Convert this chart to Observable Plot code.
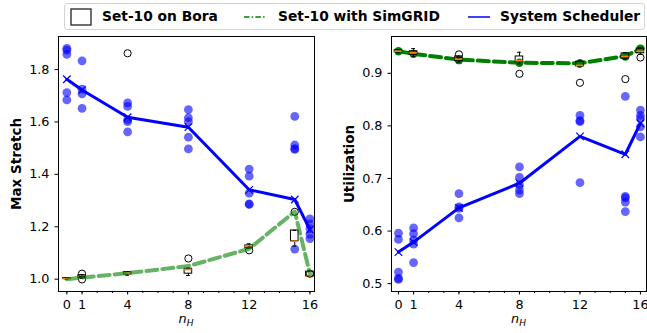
<!DOCTYPE html>
<html><head><meta charset="utf-8">
<script src="https://cdn.jsdelivr.net/npm/d3@7"></script>
<script src="https://cdn.jsdelivr.net/npm/@observablehq/plot@0.6"></script>
<style>
body{margin:0;background:#fff;font-family:"DejaVu Sans",sans-serif;}
#wrap{position:relative;width:647px;height:333px;overflow:hidden;background:#fff}
#left,#right{position:absolute;top:0}
#left{left:0}
#right{left:324px}
#legend{position:absolute;left:64px;top:3px;width:581px;height:27px;border:1px solid #d4d4d4;border-radius:3px;box-sizing:border-box;background:#fff;font-weight:bold;font-size:13.8px;color:#000;z-index:5}
#legend .it{position:absolute;top:4px;line-height:17px;white-space:nowrap}
#legend svg{position:absolute}
g[aria-label="y-axis label"] text{font-weight:bold;font-size:13.5px}
</style>
</head><body>
<div id="wrap">
  <div id="left"></div>
  <div id="right"></div>
  <div id="legend"></div>
</div>
<script>
// ---------- data ----------
const nH = [0, 1, 4, 8, 12, 15, 16];
const xTicks = [0, 1, 4, 8, 12, 16];
const xMinorTicks = [0,1,2,3,4,5,6,7,8,9,10,11,12,13,14,15,16];
const stretchTicks = [1.0, 1.2, 1.4, 1.6, 1.8];
const utilTicks = [0.5, 0.6, 0.7, 0.8, 0.9];

const legendLabels = ["Set-10 on Bora", "Set-10 with SimGRID", "System Scheduler"];

// line series
const stretchScheduler = [1.763, 1.722, 1.618, 1.580, 1.341, 1.304, 1.189];
const stretchSimgrid   = [1.000, 1.006, 1.023, 1.050, 1.116, 1.258, 1.021];
const utilScheduler    = [0.560, 0.579, 0.644, 0.691, 0.780, 0.746, 0.805];
const utilSimgrid      = [0.942, 0.937, 0.926, 0.920, 0.919, 0.933, 0.946];

// individual System Scheduler runs
const stretchRunsX = [0,0,0,0,0, 1,1,1,1, 4,4,4,4,4, 8,8,8,8,8, 12,12,12,12,12, 15,15,15,15,15, 16,16,16,16,16];
const stretchRunsY = [1.881,1.874,1.858,1.712,1.684, 1.833,1.725,1.707,1.652, 1.673,1.659,1.609,1.601,1.562,
                      1.647,1.616,1.601,1.542,1.497, 1.420,1.393,1.328,1.287,1.285, 1.621,1.512,1.498,1.495,1.115,
                      1.230,1.211,1.192,1.171,1.155];
const utilRunsX = [0,0,0,0,0, 1,1,1,1,1, 4,4,4,4, 8,8,8,8,8, 12,12,12,12, 15,15,15,15,15, 16,16,16,16,16];
const utilRunsY = [0.596,0.584,0.522,0.510,0.508, 0.606,0.595,0.583,0.575,0.540, 0.671,0.646,0.643,0.625,
                   0.722,0.702,0.688,0.678,0.671, 0.820,0.810,0.808,0.692, 0.856,0.666,0.663,0.655,0.637,
                   0.830,0.820,0.814,0.798,0.779];

// SimGRID individual runs (utilization)
const utilSimRuns = [0.942, 0.937, 0.925, 0.920, 0.919, 0.932, 0.947];

// Set-10 on Bora box statistics (per nH)
const stretchBoxLo  = [1.000, 1.003, 1.015, 1.014, 1.118, 1.126, 1.010];
const stretchBoxQ1  = [1.001, 1.005, 1.018, 1.021, 1.118, 1.145, 1.010];
const stretchBoxMed = [1.002, 1.010, 1.023, 1.037, 1.126, 1.145, 1.011];
const stretchBoxQ3  = [1.004, 1.015, 1.027, 1.040, 1.129, 1.186, 1.029];
const stretchBoxHi  = [1.005, 1.017, 1.028, 1.042, 1.135, 1.186, 1.029];
const stretchOutX = [1, 1, 4, 8, 12, 15, 16];
const stretchOutY = [1.021, 0.999, 1.862, 1.079, 1.110, 1.257, 1.021];

const utilBoxLo  = [0.939, 0.932, 0.921, 0.918, 0.912, 0.927, 0.936];
const utilBoxQ1  = [0.940, 0.935, 0.923, 0.921, 0.913, 0.928, 0.938];
const utilBoxMed = [0.942, 0.939, 0.927, 0.924, 0.915, 0.932, 0.942];
const utilBoxQ3  = [0.944, 0.942, 0.932, 0.932, 0.922, 0.938, 0.947];
const utilBoxHi  = [0.945, 0.947, 0.933, 0.940, 0.923, 0.939, 0.948];
const utilOutX = [4, 8, 12, 15, 16];
const utilOutY = [0.936, 0.899, 0.882, 0.889, 0.930];

// ---------- build tables ----------
const BLUE = "#0000ff", GREEN = "#008000", ORANGE = "#ff7f0e";
const toLine = (ys) => nH.map((x, i) => ({x, y: ys[i]}));
const toPts = (xs, ys) => xs.map((x, i) => ({x, y: ys[i]}));
const toBoxes = (lo, q1, med, q3, hi) => nH.map((x, i) => ({x, lo: lo[i], q1: q1[i], med: med[i], q3: q3[i], hi: hi[i]}));

const BW = 0.25;  // half box width (data units)
const CW = 0.125; // half cap width

function boxMarks(boxes, outliers) {
  return [
    Plot.ruleX(boxes, {x: "x", y1: "lo", y2: "q1", stroke: "black", strokeWidth: 1}),
    Plot.ruleX(boxes, {x: "x", y1: "q3", y2: "hi", stroke: "black", strokeWidth: 1}),
    Plot.ruleY(boxes, {y: "lo", x1: d => d.x - CW, x2: d => d.x + CW, stroke: "black", strokeWidth: 1}),
    Plot.ruleY(boxes, {y: "hi", x1: d => d.x - CW, x2: d => d.x + CW, stroke: "black", strokeWidth: 1}),
    Plot.rect(boxes, {x1: d => d.x - BW, x2: d => d.x + BW, y1: "q1", y2: "q3", fill: "white", fillOpacity: 0, stroke: "black", strokeWidth: 1}),
    Plot.ruleY(boxes, {y: "med", x1: d => d.x - BW, x2: d => d.x + BW, stroke: ORANGE, strokeWidth: 1.6}),
    Plot.dot(outliers, {x: "x", y: "y", r: 3.6, stroke: "black", fill: "none", strokeWidth: 1})
  ];
}

function axes(yTicks, yLabel) {
  return [
    Plot.axisX({ticks: xMinorTicks, tickSize: 2, text: null, label: null, stroke: "black"}),
    Plot.axisX({ticks: xTicks, tickSize: 3.5, tickPadding: 4.5, tickFormat: d => String(d), label: null, stroke: "black", fill: "black"}),
    Plot.axisY({ticks: yTicks, tickSize: 3.5, tickPadding: 5.5, tickFormat: d3.format(".1f"), label: yLabel, labelAnchor: "center", labelArrow: "none", labelOffset: 47, stroke: "black", fill: "black"}),
    Plot.frame({stroke: "black", strokeWidth: 1})
  ];
}

const baseStyle = {fontFamily: "DejaVu Sans", fontSize: "12.8px", color: "black", background: "transparent", overflow: "visible"};

// ---------- left: Max Stretch ----------
const left = Plot.plot({
  width: 324, height: 333,
  marginLeft: 58, marginRight: 10, marginTop: 36, marginBottom: 42,
  style: baseStyle,
  x: {domain: [-0.55, 16.3]},
  y: {domain: [0.953, 1.926]},
  marks: [
    Plot.dot(toPts(stretchRunsX, stretchRunsY), {x: "x", y: "y", r: 4.4, fill: BLUE, fillOpacity: 0.6}),
    ...boxMarks(toBoxes(stretchBoxLo, stretchBoxQ1, stretchBoxMed, stretchBoxQ3, stretchBoxHi), toPts(stretchOutX, stretchOutY)),
    Plot.line(toLine(stretchSimgrid), {x: "x", y: "y", stroke: GREEN, strokeOpacity: 0.6, strokeWidth: 4, strokeDasharray: "11,5"}),
    Plot.line(toLine(stretchScheduler), {x: "x", y: "y", stroke: BLUE, strokeWidth: 3}),
    Plot.dot(toLine(stretchScheduler), {x: "x", y: "y", symbol: "times", r: 3.5, stroke: BLUE, strokeWidth: 1.2}),
    ...axes(stretchTicks, "Max Stretch")
  ]
});

// ---------- right: Utilization ----------
const right = Plot.plot({
  width: 323, height: 333,
  marginLeft: 67, marginRight: 1, marginTop: 36, marginBottom: 42,
  style: baseStyle,
  x: {domain: [-0.46, 16.4]},
  y: {domain: [0.485, 0.970]},
  marks: [
    Plot.dot(toPts(utilRunsX, utilRunsY), {x: "x", y: "y", r: 4.4, fill: BLUE, fillOpacity: 0.6}),
    Plot.line(toLine(utilScheduler), {x: "x", y: "y", stroke: BLUE, strokeWidth: 3}),
    Plot.dot(toLine(utilScheduler), {x: "x", y: "y", symbol: "times", r: 3.5, stroke: BLUE, strokeWidth: 1.2}),
    Plot.dot(toLine(utilSimRuns), {x: "x", y: "y", r: 4.2, fill: GREEN}),
    Plot.line(toLine(utilSimgrid), {x: "x", y: "y", stroke: GREEN, strokeWidth: 4, strokeDasharray: "11,5"}),
    ...boxMarks(toBoxes(utilBoxLo, utilBoxQ1, utilBoxMed, utilBoxQ3, utilBoxHi), toPts(utilOutX, utilOutY)),
    ...axes(utilTicks, "Utilization")
  ]
});

document.getElementById("left").appendChild(left);
document.getElementById("right").appendChild(right);

// x-axis label n_H (italic with subscript)
for (const [svg, ml, mr, w] of [[left, 58, 10, 324], [right, 67, 1, 323]]) {
  const cx = ml + (w - ml - mr) / 2;
  const t = d3.select(svg).append("text")
    .attr("x", cx).attr("y", 323)
    .attr("text-anchor", "middle")
    .attr("font-family", "DejaVu Sans")
    .attr("font-size", 12.8)
    .attr("font-style", "italic")
    .attr("fill", "black");
  t.append("tspan").text("n");
  t.append("tspan").attr("font-size", 9).attr("dy", 3).text("H");
}

// legend
const lg = d3.select("#legend");
const textLeft = [37, 213, 435];
// box handle
lg.append("svg").attr("width", 22).attr("height", 18).style("left", "5px").style("top", "4px")
  .append("rect").attr("x", 1).attr("y", 1).attr("width", 20).attr("height", 16)
  .attr("fill", "none").attr("stroke", "#222").attr("stroke-width", 1.3);
// green dashed handle
lg.append("svg").attr("width", 24).attr("height", 18).style("left", "178px").style("top", "4px")
  .append("line").attr("x1", 1).attr("x2", 23).attr("y1", 9).attr("y2", 9)
  .attr("stroke", GREEN).attr("stroke-width", 1.5).attr("stroke-dasharray", "5.5,2.2,1.5,2.2");
// blue line handle
lg.append("svg").attr("width", 24).attr("height", 18).style("left", "402px").style("top", "4px")
  .append("line").attr("x1", 1).attr("x2", 23).attr("y1", 9).attr("y2", 9)
  .attr("stroke", BLUE).attr("stroke-width", 1.5);
legendLabels.forEach((s, i) => {
  lg.append("div").attr("class", "it").style("left", textLeft[i] + "px").text(s);
});
</script>
</body></html>
